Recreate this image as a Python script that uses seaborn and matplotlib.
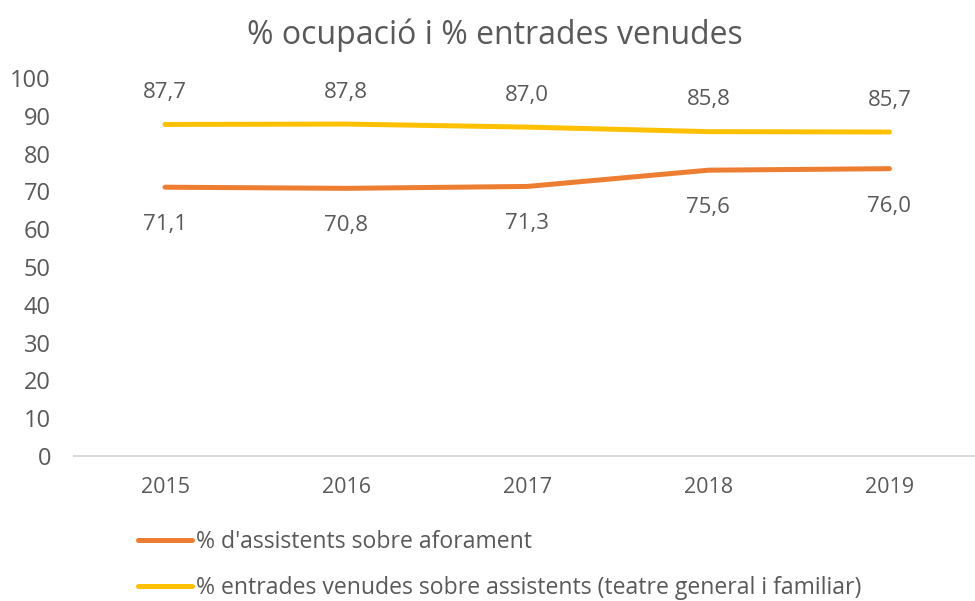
import pandas as pd
import numpy as np
import matplotlib
matplotlib.use("Agg")
import matplotlib.pyplot as plt
import seaborn as sns

# chart values
years = ["2015", "2016", "2017", "2018", "2019"]
assistents = [71.1, 70.8, 71.3, 75.6, 76.0]
entrades = [87.7, 87.8, 87.0, 85.8, 85.7]
series_names = ["% d'assistents sobre aforament",
                "% entrades venudes sobre assistents (teatre general i familiar)"]
y_ticks = list(range(0, 101, 10))

df = pd.DataFrame({
    "any": years * 2,
    "valor": assistents + entrades,
    "serie": [series_names[0]] * len(years) + [series_names[1]] * len(years),
})

sns.set_style("white")
plt.rcParams["font.family"] = ["Open Sans", "DejaVu Sans"]
grey = "#595959"
colors = {series_names[0]: "#ED7D31", series_names[1]: "#FFC000"}

fig = plt.figure(figsize=(9.75, 6.01), dpi=100)
ax = fig.add_axes([0.0764, 0.2413, 0.9287, 0.629])

sns.lineplot(data=df, x="any", y="valor", hue="serie", palette=colors,
             linewidth=3.6, solid_capstyle="round", sort=False, ax=ax)

ax.set_xlim(-0.5, 4.5)
ax.set_ylim(0, 100)
ax.set_yticks(y_ticks)
ax.set_xlabel("")
ax.set_ylabel("")
for s in ["top", "right", "left"]:
    ax.spines[s].set_visible(False)
ax.spines["bottom"].set_color("#D9D9D9")
ax.spines["bottom"].set_linewidth(1.5)
ax.tick_params(axis="both", length=0)
ax.tick_params(axis="y", labelsize=17, labelcolor=grey, pad=17)
ax.tick_params(axis="x", labelsize=15.5, labelcolor=grey, pad=15)

# data labels
for i, v in enumerate(entrades):
    ax.annotate(f"{v:.1f}".replace(".", ","), (i, v), xytext=(0, 23),
                textcoords="offset points", ha="center", va="center",
                fontsize=16, color=grey)
for i, v in enumerate(assistents):
    ax.annotate(f"{v:.1f}".replace(".", ","), (i, v), xytext=(0, -27),
                textcoords="offset points", ha="center", va="center",
                fontsize=16, color=grey)

fig.text(0.508, 0.942, "% ocupació i % entrades venudes", ha="center",
         va="center", fontsize=23, color=grey)

handles, labels = ax.get_legend_handles_labels()
ax.get_legend().remove()
leg = fig.legend(handles, labels, loc="center left", bbox_to_anchor=(0.1415, 0.06),
                 frameon=False, handlelength=2.36, handletextpad=0.17,
                 labelspacing=0.95, borderpad=0, borderaxespad=0,
                 prop={"size": 16.6})
for t in leg.get_texts():
    t.set_color(grey)

fig.savefig("out.png", dpi=100)
